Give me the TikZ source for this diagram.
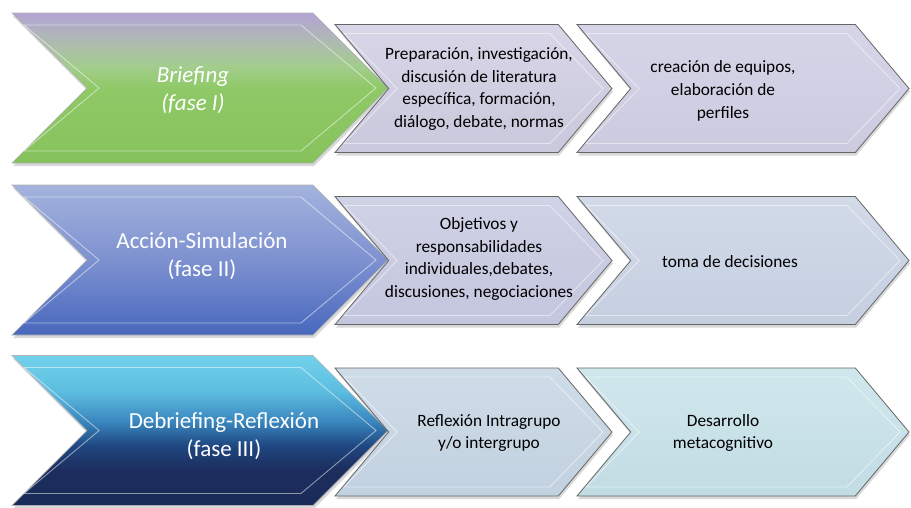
\documentclass[tikz,border=0pt]{standalone}
\usepackage{fontspec}
\setmainfont{Carlito}
\usetikzlibrary{shapes.symbols,shadows}

\definecolor{lavtop}{HTML}{B3A4D4}
\definecolor{grngray}{HTML}{ADBDAB}
\definecolor{grnlight}{HTML}{A2CD8C}
\definecolor{grnmid}{HTML}{8FC967}
\definecolor{grnbot}{HTML}{86C25C}
\definecolor{cyantop}{HTML}{72D2EC}
\definecolor{cyanmid}{HTML}{5CBDE0}
\definecolor{bluemid}{HTML}{3A86BE}
\definecolor{bluedark}{HTML}{1F4781}
\definecolor{navy}{HTML}{1C2D5E}
\definecolor{navybot}{HTML}{1B2A58}
\definecolor{acctop}{HTML}{A4B3DD}
\definecolor{accmid}{HTML}{7D91D0}
\definecolor{accbot}{HTML}{4868BD}
\definecolor{lila1t}{HTML}{D8D6E7}
\definecolor{lila1b}{HTML}{C9C8DC}
\definecolor{lila2t}{HTML}{D6D5E8}
\definecolor{lila2b}{HTML}{CBCADF}
\definecolor{gris1t}{HTML}{D0D2E6}
\definecolor{gris1b}{HTML}{C3C6DD}
\definecolor{gris2t}{HTML}{D2DAE8}
\definecolor{gris2b}{HTML}{C5CFE0}
\definecolor{agua1t}{HTML}{CFDCE8}
\definecolor{agua1b}{HTML}{C2D1E0}
\definecolor{agua2t}{HTML}{D0E7EC}
\definecolor{agua2b}{HTML}{C2DCE4}
\pgfdeclareverticalshading{briefshade}{100bp}{color(0bp)=(grnbot); color(25bp)=(grnbot);
  color(50bp)=(grnmid); color(57bp)=(grnlight); color(64bp)=(grngray); color(75bp)=(lavtop); color(100bp)=(lavtop)}
\pgfdeclareverticalshading{debriefshade}{100bp}{color(0bp)=(navybot); color(25bp)=(navybot);
  color(37bp)=(navy); color(45bp)=(bluedark); color(53bp)=(bluemid); color(63bp)=(cyanmid); color(75bp)=(cyantop); color(100bp)=(cyantop)}

\begin{document}
\begin{tikzpicture}[x=1pt,y=-1pt,
  chev/.style={signal,signal from=west,signal to=east,inner sep=0pt,
    drop shadow={shadow xshift=1pt,shadow yshift=-3pt,opacity=.3}},
  big chev/.style={chev,signal pointer angle=90,minimum width=376pt,minimum height=150pt,
    draw=black!30,line width=.6pt},
  small chev/.style={chev,signal pointer angle=100,minimum height=128pt,
    draw=black!60,line width=.8pt},
  bevel/.style={signal,signal from=west,signal to=east,inner sep=0pt,
    draw=white,draw opacity=.5,line width=.9pt},
  big bevel/.style={bevel,signal pointer angle=80,minimum width=352pt,minimum height=126pt},
  small bevel/.style={bevel,signal pointer angle=92,minimum height=110pt},
  big txt/.style={text=white,align=center,font=\fontsize{23}{28}\selectfont},
  small txt/.style={text=black,align=center,font=\fontsize{17.3}{22.7}\selectfont}]
\useasboundingbox[fill=white] (0,0) rectangle (911,507);

\node[big chev,shading=briefshade] (b1) at (200,88) {};
\node[big chev,top color=acctop,bottom color=accbot,middle color=accmid] (b2) at (200,260) {};
\node[big chev,shading=debriefshade] (b3) at (200,430.5) {};

\node[small chev,minimum width=277pt,top color=lila1t,bottom color=lila1b] (c12) at (473.5,88.5) {};
\node[small chev,minimum width=332pt,top color=lila2t,bottom color=lila2b] (c13) at (743,88.5) {};
\node[small chev,minimum width=277pt,top color=gris1t,bottom color=gris1b] (c22) at (473.5,260.5) {};
\node[small chev,minimum width=332pt,top color=gris2t,bottom color=gris2b] (c23) at (743,260.5) {};
\node[small chev,minimum width=277pt,top color=agua1t,bottom color=agua1b] (c32) at (473.5,432) {};
\node[small chev,minimum width=332pt,top color=agua2t,bottom color=agua2b] (c33) at (743,432) {};

\node[big bevel] (b1i) at (b1.center) {};
\node[big bevel] (b2i) at (b2.center) {};
\node[big bevel] (b3i) at (b3.center) {};
\node[small bevel,minimum width=259pt] (c12i) at (c12.center) {};
\node[small bevel,minimum width=314pt] (c13i) at (c13.center) {};
\node[small bevel,minimum width=259pt] (c22i) at (c22.center) {};
\node[small bevel,minimum width=314pt] (c23i) at (c23.center) {};
\node[small bevel,minimum width=259pt] (c32i) at (c32.center) {};
\node[small bevel,minimum width=314pt] (c33i) at (c33.center) {};

\node[big txt,font=\fontsize{23}{28}\selectfont\itshape] (t1) at (193,90) {Briefing\\(fase I)};
\node[big txt] (t2) at (202,256) {Acción-Simulación\\(fase II)};
\node[big txt] (t3) at (224,436) {Debriefing-Reflexión\\(fase III)};

\node[small txt] (t12) at (479,89) {Preparación, investigación,\\discusión de literatura\\específica, formación,\\diálogo, debate, normas};
\node[small txt] (t13) at (723,91) {creación de equipos,\\elaboración de\\perfiles};
\node[small txt] (t22) at (479,259) {Objetivos y\\responsabilidades\\individuales,debates,\\discusiones, negociaciones};
\node[small txt] (t23) at (730,262) {toma de decisiones};
\node[small txt] (t32) at (489,433) {Reflexión Intragrupo\\y/o intergrupo};
\node[small txt] (t33) at (723,433) {Desarrollo\\metacognitivo};
\end{tikzpicture}
\end{document}
